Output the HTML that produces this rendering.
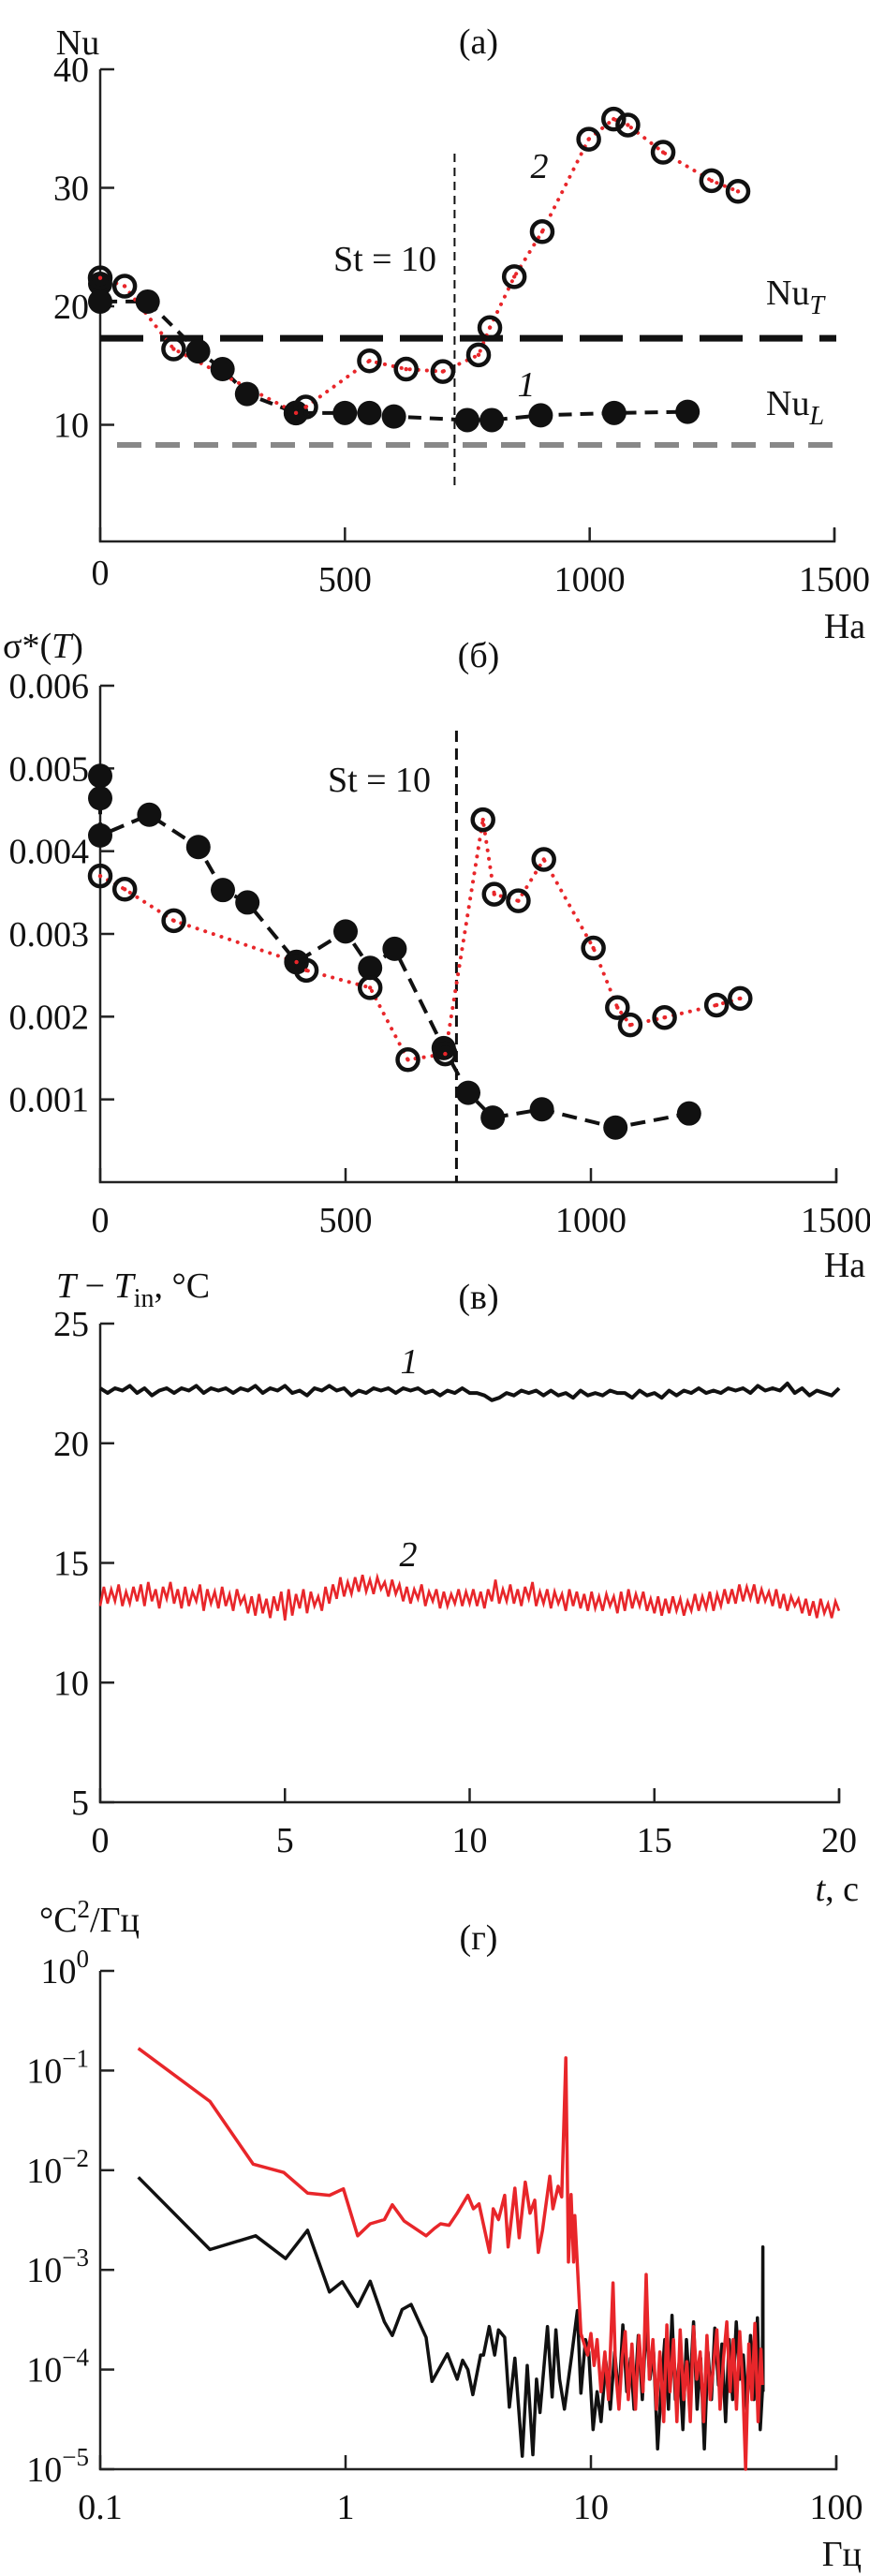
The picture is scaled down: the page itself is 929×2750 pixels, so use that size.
<!DOCTYPE html>
<html><head><meta charset="utf-8"><style>
html,body{margin:0;padding:0;background:#fff}
svg{display:block}
text{font-family:"Liberation Serif","DejaVu Serif",serif;fill:#111}
</style></head><body>
<svg id="fig" width="929" height="2750" viewBox="0 0 929 2750" xmlns="http://www.w3.org/2000/svg">
<g id="pa"></g>
<g id="pb"></g>
<g id="pc"></g>
<g id="pd"></g>
</svg>
<script>
// ---- Panel (a) data ----
const nuHa1 = [0,0,97,200,250,300,400,500,550,600,750,800,900,1050,1200];
const nuVal1 = [21.9,20.4,20.4,16.2,14.7,12.6,11.0,11.0,11.0,10.7,10.4,10.4,10.8,11.0,11.1];
const nuHa2 = [0,50,150,400,420,550,625,700,773,796,846,903,998,1049,1078,1150,1249,1303];
const nuVal2 = [22.4,21.7,16.4,11.0,11.5,15.4,14.7,14.5,15.9,18.2,22.5,26.3,34.1,35.8,35.3,33.0,30.6,29.7];
const nuT = 17.3, nuL = 8.3, stHa = 724;
const nuYTicks = [10,20,30,40];
const haTicks = [0,500,1000,1500];
// ---- Panel (b) data ----
const sgHa1 = [0,0,0,100,200,250,300,400,500,550,600,700,750,800,900,1050,1200];
const sgVal1 = [4.91,4.64,4.19,4.44,4.05,3.53,3.38,2.66,3.03,2.59,2.82,1.62,1.08,0.78,0.88,0.66,0.83];
const sgHa2 = [0,50,150,400,420,550,627,703,780,803,852,904,1005,1054,1080,1150,1256,1304];
const sgVal2 = [3.70,3.54,3.16,2.66,2.56,2.35,1.48,1.55,4.38,3.48,3.40,3.90,2.83,2.11,1.90,1.99,2.14,2.22];
const sgYTicks = [1,2,3,4,5,6];
const sgYLabels = ["0.001","0.002","0.003","0.004","0.005","0.006"];
// ---- Panel (c) data (dt = 0.2 s black, 0.1 s red) ----
const tBlack = [22.3,22.1,22.3,22.2,22.4,22.1,22.3,22.0,22.2,22.3,22.1,
22.3,22.2,22.4,22.1,22.3,22.2,22.3,22.1,22.3,22.2,
22.4,22.1,22.3,22.2,22.4,22.1,22.2,22.0,22.3,22.2,
22.4,22.2,22.3,22.0,22.2,22.1,22.3,22.2,22.3,22.1,
22.3,22.2,22.3,22.1,22.2,22.0,22.2,22.1,22.3,22.1,
22.1,22.0,21.8,21.9,22.1,22.0,22.2,22.1,22.2,22.0,
22.2,22.0,22.1,21.9,22.2,22.0,22.1,22.0,22.2,22.1,
22.1,21.9,22.2,22.0,22.1,21.9,22.2,22.0,22.2,22.1,
22.3,22.1,22.2,22.1,22.3,22.2,22.3,22.1,22.4,22.2,
22.3,22.2,22.5,22.1,22.3,22.0,22.2,22.1,22.0,22.3];
const tRed = [13.2,14.0,13.3,13.9,13.4,14.1,13.2,13.8,13.3,14.0,13.4,
14.1,13.2,14.2,13.4,13.9,13.1,14.0,13.5,14.2,13.3,
13.9,13.1,14.0,13.2,13.8,13.4,14.1,13.0,13.9,13.3,
13.8,13.1,14.0,13.2,13.7,13.0,13.9,13.3,13.6,12.9,
13.6,12.8,13.7,12.9,13.5,12.7,13.6,13.0,13.8,12.6,
13.9,12.8,13.7,13.1,13.9,12.9,13.8,13.2,13.6,13.0,
14.0,13.3,14.1,13.5,14.4,13.6,14.2,13.7,14.4,13.8,
14.5,13.8,14.3,13.7,14.4,13.9,14.2,13.6,14.3,13.7,
14.1,13.4,14.0,13.3,13.9,13.5,14.1,13.2,13.8,13.4,
13.9,13.1,13.8,13.2,13.7,13.3,13.9,13.2,13.8,13.3,
13.9,13.2,13.8,13.1,13.9,13.4,14.3,13.3,13.9,13.4,
14.1,13.3,13.9,13.2,14.0,13.5,14.2,13.2,13.8,13.3,
13.9,13.1,13.8,13.3,13.7,13.0,13.9,13.2,13.8,13.1,
13.7,13.0,13.8,13.1,13.6,13.0,13.7,13.2,13.6,12.9,
13.8,13.0,13.9,13.1,13.7,13.2,13.8,13.0,13.5,12.9,
13.6,12.8,13.5,12.9,13.6,13.0,13.5,12.8,13.4,13.0,
13.7,13.0,13.6,13.1,13.8,13.0,13.7,13.2,13.9,13.3,
13.9,13.3,14.1,13.4,14.0,13.5,14.1,13.3,13.9,13.4,
13.8,13.2,13.9,13.1,13.7,13.0,13.6,13.2,13.5,12.9,
13.5,12.8,13.4,12.7,13.5,12.9,13.3,12.7,13.4,13.0];
const tYTicks = [5,10,15,20,25];
const tXTicks = [0,5,10,15,20];
// ---- Panel (d) data ----
const fBlack = [0.143,0.28,0.43,0.57,0.70,0.86,0.97,1.12,1.26,1.44,1.55,1.70,1.85,2.13,2.25,2.6,2.85,3.0,3.15,3.3,3.55,3.65,3.85,4.05,4.2,4.45,4.65,4.9,5.25,5.5,5.8,6.0,6.2,6.65,6.95,7.2,7.45,7.8,8.1,8.35,8.8,9.1,9.5,9.8,10.2,10.6,11,11.5,12,12.5,13,13.5,14,14.5,15,15.6,16.2,16.8,17.4,18,18.7,19.3,20,20.7,21.4,22.1,22.9,23.7,24.5,25.3,26.2,27.1,28,29,30,31,32,33.1,34.2,35.4,36.6,37.8,39.1,40.4,41.8,43.2,44.7,46.2,47.7,49,50,50.2,50.3];
const pBlack = [8.5e-3,1.6e-3,2.2e-3,1.3e-3,2.5e-3,6e-4,7.6e-4,4.3e-4,7.7e-4,3e-4,2.2e-4,4e-4,4.5e-4,2.1e-4,7.6e-5,1.44e-4,8e-5,1.24e-4,1e-4,5.6e-5,1.4e-4,1.4e-4,2.7e-4,1.4e-4,2.5e-4,2.1e-4,4.2e-5,1.3e-4,1.35e-5,1.1e-4,1.4e-5,8e-5,3.7e-5,2.7e-4,5.3e-5,2.5e-4,8e-5,4e-5,8e-5,1.4e-4,3.9e-4,5.8e-5,2e-4,1.5e-4,2.5e-5,6e-5,3e-5,1.2e-4,4e-5,1.5e-4,5e-5,2.8e-4,6e-5,1.3e-4,4e-5,2.2e-4,5e-5,3e-4,8e-5,1.5e-4,1.6e-5,6e-5,2e-4,4e-5,3.5e-4,5e-5,1.2e-4,2.5e-5,2e-4,6e-5,3e-4,4e-5,1.3e-4,1.6e-5,1.5e-4,5e-5,2.6e-4,7e-5,1.8e-4,3e-5,2e-4,5e-5,3e-4,8e-5,1.4e-4,4e-5,2.2e-4,5e-5,3.3e-4,2.5e-5,6e-5,1.7e-3,6e-5];
const fRed = [0.143,0.28,0.42,0.56,0.70,0.86,0.98,1.12,1.26,1.44,1.55,1.73,2.13,2.3,2.44,2.64,2.85,3.15,3.32,3.5,3.86,4.0,4.2,4.45,4.6,4.9,5.1,5.4,5.65,5.9,6.1,6.35,6.8,7.0,7.35,7.6,7.9,8.1,8.3,8.5,8.6,9.1,9.7,10,10.3,10.6,11,11.4,11.8,12.3,12.6,13,13.4,13.8,14.2,14.7,15.2,15.7,16.3,16.8,17.3,17.9,18.5,19.1,19.8,20.4,21,21.7,22.4,23.1,23.9,24.6,25.4,26.2,27,27.9,28.8,29.7,30.6,31.6,32.6,33.6,34.7,35.8,36.9,38,39.2,40.4,41.6,42.7,44,45.3,46.6,48,49.3,50];
const pRed = [0.167,0.049,0.0115,0.0095,0.0059,0.0056,0.0065,0.0022,0.0029,0.0032,0.0045,0.0031,0.0022,0.0026,0.0029,0.0028,0.0037,0.0056,0.0041,0.0046,0.0015,0.0041,0.0032,0.0056,0.0017,0.0066,0.0021,0.0076,0.0037,0.005,0.0015,0.0025,0.0087,0.0041,0.0069,0.0054,0.134,0.0012,0.0057,0.0012,0.0035,2.3e-4,1.4e-4,2.3e-4,1.1e-4,2e-4,6e-5,1.5e-4,5e-5,7.4e-4,1e-4,4e-5,1.3e-4,2.4e-4,5e-5,1.8e-4,4e-5,2.2e-4,6e-5,9e-4,8e-5,2e-4,4e-5,1.5e-4,3e-5,2.8e-4,6e-5,2e-4,3e-5,2.5e-4,5e-5,1.2e-4,3e-5,2.7e-4,8e-5,1.5e-4,3e-5,2.2e-4,5e-5,1.1e-4,2.5e-4,4e-5,1.3e-4,3e-4,6e-5,2e-4,4e-5,2.4e-4,7e-5,1e-5,1.8e-4,5e-5,2.9e-4,3e-5,1.6e-4,7e-5];
const fTicks = [0.1,1,10,100];
const fTickLabels = ["0.1","1","10","100"];
const pExps = [0,-1,-2,-3,-4,-5];

const NS="http://www.w3.org/2000/svg";
function mk(parent, tag, attrs, txt){
  const e=document.createElementNS(NS,tag);
  for(const k in attrs) e.setAttribute(k,attrs[k]);
  if(txt!==undefined) e.textContent=txt;
  parent.appendChild(e); return e;
}
function lin(d0,d1,r0,r1){return v=>r0+(v-d0)*(r1-r0)/(d1-d0);}
function logS(d0,d1,r0,r1){return v=>r0+(Math.log10(v)-Math.log10(d0))*(r1-r0)/(Math.log10(d1)-Math.log10(d0));}
// left x, right x, top y, bottom y
function axes(g,xl,xr,yt,yb){
  const a=mk(g,'path',{d:`M${xl},${yt} V${yb} H${xr} v-14`,fill:'none',stroke:'#222','stroke-width':2.5});
  
  
}
function ytick(g,x,y,label,name){
  const t=mk(g,'line',{x1:x,y1:y,x2:x+15,y2:y,stroke:'#222','stroke-width':2.5});
  
  
  if(label!==null){
    const l=mk(g,'text',{x:x-12,y:y+13,'font-size':38,'text-anchor':'end'},label);
    
    
  }
}
function xtick(g,x,yAxis,yLab,label){
  const t=mk(g,'line',{x1:x,y1:yAxis,x2:x,y2:yAxis-15,stroke:'#222','stroke-width':2.5});
  
  
  const l=mk(g,'text',{x:x,y:yLab+13,'font-size':38,'text-anchor':'middle'},label);
  
  
}
function label(g,x,y,txt,name,anchor,italic){
  const l=mk(g,'text',{x:x,y:y,'font-size':38,'text-anchor':anchor||'start'});
  if(italic) l.setAttribute('font-style','italic');
  l.innerHTML=txt;
  
  
  return l;
}
function polyline(g,xs,ys,X,Y,attrs,name){
  let d='';
  for(let i=0;i<xs.length;i++) d+=(i?'L':'M')+X(xs[i]).toFixed(1)+','+Y(ys[i]).toFixed(1);
  const p=mk(g,'path',Object.assign({d:d,fill:'none'},attrs));
  
  
}
function markers(g,xs,ys,X,Y,filled,name){
  for(let i=0;i<xs.length;i++){
    const c=mk(g,'circle',{cx:X(xs[i]),cy:Y(ys[i]),r:filled?13:11,fill:filled?'#111':'none',stroke:'#111','stroke-width':filled?0:4.5});
    
    
  }
  if(!filled){
    for(let i=0;i<xs.length;i++){
      const d=mk(g,'circle',{cx:X(xs[i]),cy:Y(ys[i]),r:2.2,fill:'#e8262a'});
      
      
    }
  }
}

// ===== Panel (a) =====
(function(){
  const g=document.getElementById('pa');
  const X=lin(0,1500,107,891), Y=lin(0,40,580,74);
  axes(g,107,891,74,578);
  nuYTicks.forEach(v=>ytick(g,107,Y(v),String(v)));
  haTicks.forEach(v=>xtick(g,X(v),578,v===0?611:618,String(v)));
  label(g,83,58,'Nu','y-axis-title','middle');
  label(g,511,57,'(a)','panel-label-a','middle');
  label(g,902,681,'Ha','x-axis-title','middle');
  const nt=mk(g,'line',{x1:107,y1:Y(nuT),x2:893,y2:Y(nuT),stroke:'#111','stroke-width':7,'stroke-dasharray':'46,18'});
  
  
  const nl=mk(g,'line',{x1:125,y1:Y(nuL),x2:893,y2:Y(nuL),stroke:'#888','stroke-width':6,'stroke-dasharray':'26,15'});
  
  
  const st=mk(g,'line',{x1:X(stHa),y1:164,x2:X(stHa),y2:521,stroke:'#111','stroke-width':2,'stroke-dasharray':'9,6'});
  
  
  label(g,411,289,'St = 10','st-10-label','middle');
  label(g,818,325,'Nu<tspan font-style="italic" font-size="28" dy="10">T</tspan>','nu-t-label');
  label(g,818,443,'Nu<tspan font-style="italic" font-size="28" dy="10">L</tspan>','nu-l-label');
  label(g,576,190,'2','series-2-label','middle',true);
  label(g,562,423,'1','series-1-label','middle',true);
  polyline(g,nuHa1,nuVal1,X,Y,{stroke:'#111','stroke-width':4,'stroke-dasharray':'14,9'},'series-1-line');
  polyline(g,nuHa2,nuVal2,X,Y,{stroke:'#e8262a','stroke-width':4,'stroke-dasharray':'0.1,9','stroke-linecap':'round'},'series-2-line');
  markers(g,nuHa1,nuVal1,X,Y,true,'series-1-marker');
  markers(g,nuHa2,nuVal2,X,Y,false,'series-2-marker');
})();

// ===== Panel (b) =====
(function(){
  const g=document.getElementById('pb');
  const X=lin(0,1500,107,893), Y=lin(0,6,1262,732);
  axes(g,107,893,732,1262);
  sgYTicks.forEach((v,i)=>ytick(g,107,Y(v),sgYLabels[i]));
  haTicks.forEach(v=>xtick(g,X(v),1262,1302,String(v)));
  label(g,3,702,'σ*(<tspan font-style="italic">T</tspan>)','y-axis-title');
  label(g,511,712,'(б)','panel-label-b','middle');
  label(g,902,1363,'Ha','x-axis-title','middle');
  const st=mk(g,'line',{x1:X(726),y1:780,x2:X(726),y2:1262,stroke:'#111','stroke-width':3,'stroke-dasharray':'12,7'});
  
  
  label(g,405,845,'St = 10','st-10-label','middle');
  polyline(g,sgHa1,sgVal1,X,Y,{stroke:'#111','stroke-width':4,'stroke-dasharray':'16,9'},'series-1-line');
  polyline(g,sgHa2,sgVal2,X,Y,{stroke:'#e8262a','stroke-width':4,'stroke-dasharray':'0.1,9','stroke-linecap':'round'},'series-2-line');
  markers(g,sgHa1,sgVal1,X,Y,true,'series-1-marker');
  markers(g,sgHa2,sgVal2,X,Y,false,'series-2-marker');
})();

// ===== Panel (c) =====
(function(){
  const g=document.getElementById('pc');
  const X=lin(0,20,107,896), Y=lin(5,25,1924,1413);
  axes(g,107,896,1413,1924);
  tYTicks.forEach(v=>ytick(g,107,Y(v),String(v)));
  tXTicks.forEach(v=>xtick(g,X(v),1924,1964,String(v)));
  label(g,60,1385,'<tspan font-style="italic">T</tspan> − <tspan font-style="italic">T</tspan><tspan font-size="28" dy="10">in</tspan><tspan dy="-10">, °C</tspan>','y-axis-title');
  label(g,511,1397,'(в)','panel-label-c','middle');
  label(g,917,2029,'<tspan font-style="italic">t</tspan>, c','x-axis-title','end');
  label(g,437,1466,'1','series-1-label','middle',true);
  label(g,436,1672,'2','series-2-label','middle',true);
  const tb=tBlack.map((v,i)=>i*0.2), tr=tRed.map((v,i)=>i*0.1);
  polyline(g,tb,tBlack,X,Y,{stroke:'#111','stroke-width':4,'stroke-linejoin':'round'},'series-1-line');
  polyline(g,tr,tRed,X,Y,{stroke:'#e8262a','stroke-width':2.6},'series-2-line');
})();

// ===== Panel (d) =====
(function(){
  const g=document.getElementById('pd');
  const X=logS(0.1,100,107,893), Y=logS(1,1e-5,2104,2636);
  axes(g,107,893,2104,2636);
  pExps.forEach(e=>{
    const y=Y(Math.pow(10,e));
    ytick(g,107,y,null);
    const l=mk(g,'text',{x:95,y:y+13,'font-size':38,'text-anchor':'end'});
    l.innerHTML='10<tspan font-size="27" dy="-17">'+(e===0?'0':'−'+(-e))+'</tspan>';
    
    
  });
  fTicks.forEach((v,i)=>xtick(g,X(v),2636,2676,fTickLabels[i]));
  label(g,42,2062,'°C<tspan font-size="27" dy="-15">2</tspan><tspan dy="15">/Гц</tspan>','y-axis-title');
  label(g,511,2081,'(г)','panel-label-d','middle');
  label(g,920,2739,'Гц','x-axis-title','end');
  polyline(g,fBlack,pBlack,X,Y,{stroke:'#111','stroke-width':3.5,'stroke-linejoin':'round'},'spectrum-1-line');
  polyline(g,fRed,pRed,X,Y,{stroke:'#e8262a','stroke-width':3.5,'stroke-linejoin':'round'},'spectrum-2-line');
})();
</script>
</body></html>
